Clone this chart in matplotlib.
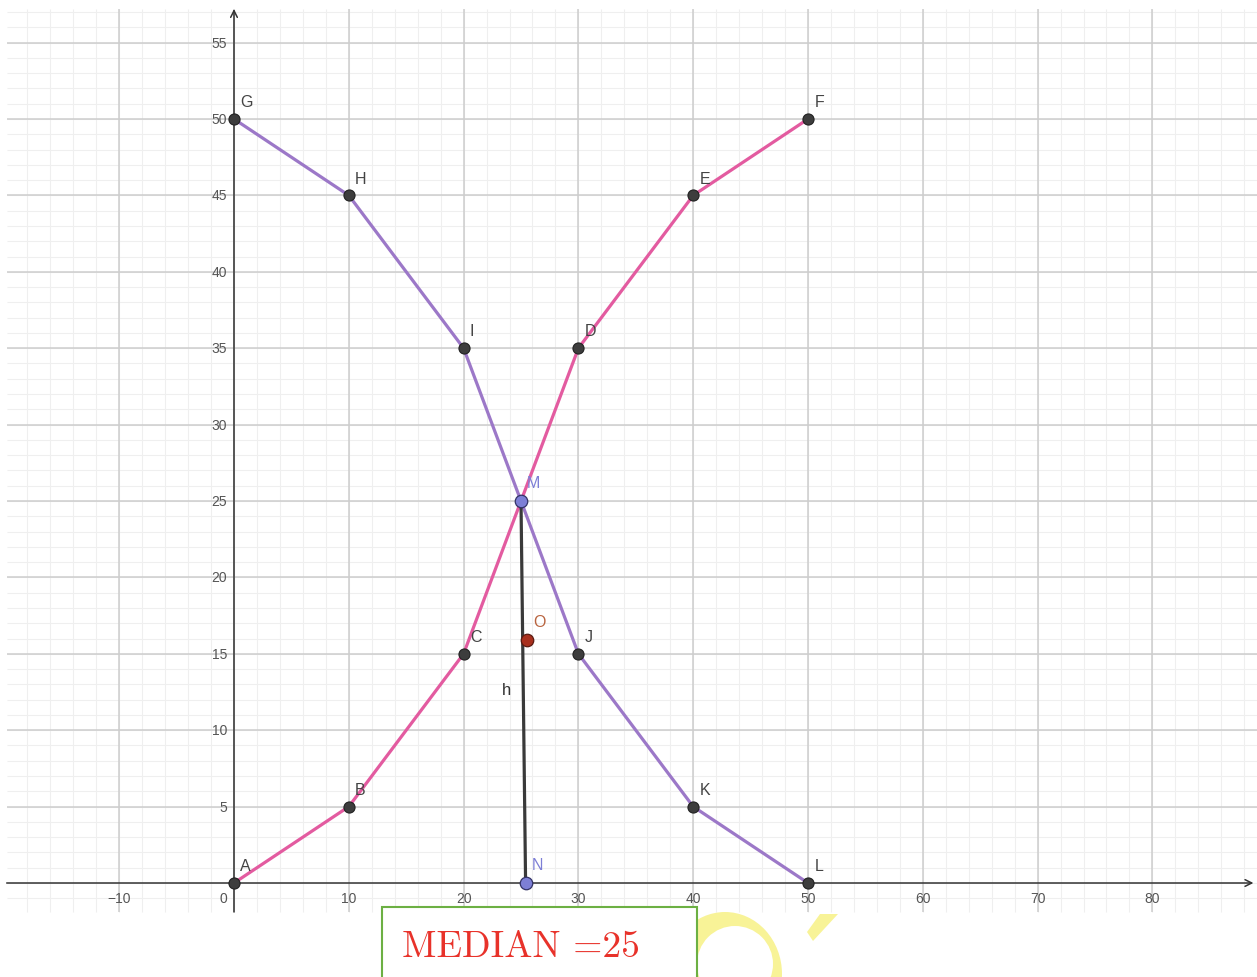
import numpy as np
import matplotlib
matplotlib.use("Agg")
import matplotlib.pyplot as plt
from matplotlib.patches import Rectangle, Ellipse, Polygon

# polyline A..F (rising) and G..L (falling)
rise_names = ['A', 'B', 'C', 'D', 'E', 'F']
rise_x = [0, 10, 20, 30, 40, 50]
rise_y = [0, 5, 15, 35, 45, 50]

fall_names = ['G', 'H', 'I', 'J', 'K', 'L']
fall_x = [0, 10, 20, 30, 40, 50]
fall_y = [50, 45, 35, 15, 5, 0]

# intersection, foot of the segment h and the point O
m_pt = (25.0, 25.0)
n_pt = (25.4, 0.0)
o_pt = (25.5, 15.9)

x_ticks = [-10, 10, 20, 30, 40, 50, 60, 70, 80]
y_ticks = [5, 10, 15, 20, 25, 30, 35, 40, 45, 50, 55]
median_text = "MEDIAN =25"

W, H = 1257, 978
fig = plt.figure(figsize=(W / 100, H / 100), dpi=100)
ax = fig.add_axes([0, 0, 1, 1])
ax.set_axis_off()
sx, sy = 11.48, 15.28
ax.set_xlim(-234 / sx, (W - 234) / sx)
ax.set_ylim((884 - H) / sy, 884 / sy)

gx0, gx1 = -19.8, 89.2
gy0, gy1 = -1.9, 57.2

# grid
minor_x = np.arange(-18, 90, 2)
minor_y = np.arange(-1, 58, 1)
ax.vlines(minor_x, gy0, gy1, color='#efefef', lw=0.8, zorder=0)
ax.hlines(minor_y, gx0, gx1, color='#efefef', lw=0.8, zorder=0)
major_x = np.arange(-10, 90, 10)
major_y = np.arange(5, 60, 5)
ax.vlines(major_x, gy0, gy1, color='#cdcdcd', lw=1.1, zorder=1)
ax.hlines(major_y, gx0, gx1, color='#cdcdcd', lw=1.1, zorder=1)

# axes with arrows
ax.annotate('', xy=(88.8, 0), xytext=(gx0, 0),
            arrowprops=dict(arrowstyle='->', color='#333333', lw=1.1,
                            mutation_scale=12, shrinkA=0, shrinkB=0), zorder=2)
ax.annotate('', xy=(0, 57.2), xytext=(0, gy0),
            arrowprops=dict(arrowstyle='->', color='#333333', lw=1.1,
                            mutation_scale=12, shrinkA=0, shrinkB=0), zorder=2)

tick_font = dict(family='Liberation Sans', fontsize=10, color='#555555')
for t in x_ticks:
    lab = str(t).replace('-', '\u2212')
    ax.annotate(lab, (t, 0), xytext=(0, -11), textcoords='offset points',
                ha='center', va='center', **tick_font)
ax.annotate('0', (0, 0), xytext=(-8, -11), textcoords='offset points',
            ha='center', va='center', **tick_font)
for t in y_ticks:
    ax.annotate(str(t), (0, t), xytext=(-5, 0), textcoords='offset points',
                ha='right', va='center', **tick_font)

# polylines
ax.plot(rise_x, rise_y, color='#e35ba0', lw=2.3, zorder=3, solid_capstyle='round')
ax.plot(fall_x, fall_y, color='#9c78c8', lw=2.3, zorder=3, solid_capstyle='round')

# segment h
ax.plot([m_pt[0], n_pt[0]], [m_pt[1], n_pt[1]], color='#3a3a3a', lw=2.3, zorder=4)
mid = ((m_pt[0] + n_pt[0]) / 2, (m_pt[1] + n_pt[1]) / 2)
ax.annotate('h', mid, xytext=(-12, 2), textcoords='offset points',
            ha='center', va='center', family='Liberation Sans', fontsize=12,
            color='#333333', zorder=6)

lab_font = dict(family='Liberation Sans', fontsize=11.5)
for names, xs, ys in [(rise_names, rise_x, rise_y), (fall_names, fall_x, fall_y)]:
    ax.plot(xs, ys, 'o', ms=8, color='#3d3d3d', mec='#222222', mew=0.8, zorder=5)
    for nm, x, y in zip(names, xs, ys):
        ax.annotate(nm, (x, y), xytext=(4.5, 7), textcoords='offset points',
                    ha='left', va='bottom', color='#444444', zorder=6, **lab_font)

for nm, p, fc, tc in [('M', m_pt, '#7d7fd6', '#7d7fd6'),
                      ('N', n_pt, '#7d7fd6', '#7d7fd6'),
                      ('O', o_pt, '#a8301e', '#b8633e')]:
    ax.plot(p[0], p[1], 'o', ms=9, color=fc, mec='#333366' if nm != 'O' else '#5a1a10',
            mew=0.9, zorder=5)
    ax.annotate(nm, p, xytext=(4.5, 8), textcoords='offset points',
                ha='left', va='bottom', color=tc, zorder=6, **lab_font)

# yellow decoration and median box (figure pixel coords / 100 = inches)
tr = fig.dpi_scale_trans
outer = Ellipse((7.25, 0.03), 1.14, 1.24, transform=tr,
                facecolor='#f8f397', edgecolor='none', zorder=7)
inner = Ellipse((7.35, 0.13), 0.76, 0.76, transform=tr,
                facecolor='white', edgecolor='none', zorder=7.5)
fig.patches.extend([outer, inner])
slash = Polygon([(8.07, 0.45), (8.13, 0.36), (8.38, 0.63), (8.20, 0.63)],
                transform=tr, facecolor='#f8f397', edgecolor='none', zorder=7)
fig.patches.append(slash)
box = Rectangle((3.82, -0.1), 3.15, 0.80, transform=tr, facecolor='white',
                edgecolor='#6cb043', lw=1.5, zorder=8)
fig.patches.append(box)
fig.text(4.02 / (W / 100), 0.21 / (H / 100), median_text, family='cmr10',
         fontsize=27, color='#e8322a', ha='left', va='baseline', zorder=9)

fig.savefig('out.png', dpi=100)
